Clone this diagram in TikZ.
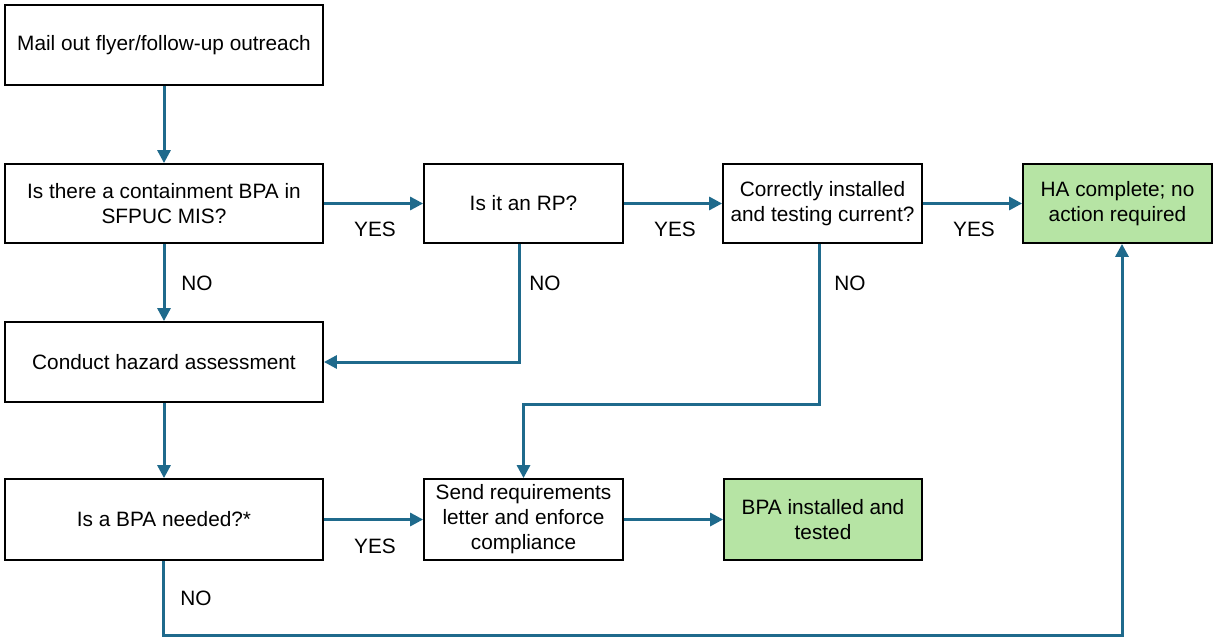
\documentclass[tikz,border=0pt]{standalone}
\usepackage{fontspec}
\setmainfont{Liberation Sans}
\usetikzlibrary{arrows.meta}
\definecolor{flowline}{RGB}{31,106,140}
\definecolor{donefill}{RGB}{182,228,164}
\begin{document}
\begin{tikzpicture}[x=1pt,y=-1pt,
  font=\fontsize{20.8}{25}\selectfont,
  box/.style={draw=black,line width=1.8pt,fill=white,align=center,inner sep=2pt},
  done/.style={box,fill=donefill},
  arr/.style={draw=flowline,line width=3pt,-{Triangle[length=13pt,width=13pt]}},
  lbl/.style={inner sep=0pt}]
\useasboundingbox[fill=white] (0,0) rectangle (1215,639);

% process boxes
\node[box,minimum width=318pt,minimum height=80pt] (mail) at (164,45) {Mail out flyer/follow-up outreach};
\node[box,minimum width=318pt,minimum height=79pt] (cont) at (164,203.5) {Is there a containment BPA in\\SFPUC MIS?};
\node[box,minimum width=199pt,minimum height=79pt] (rp) at (523.5,203.5) {Is it an RP?};
\node[box,minimum width=199pt,minimum height=79pt] (corr) at (822.5,203.5) {Correctly installed\\and testing current?};
\node[done,minimum width=189pt,minimum height=79pt] (ha) at (1117.5,203.5) {HA complete; no\\action required};
\node[box,minimum width=318pt,minimum height=80pt] (haz) at (164,362) {Conduct hazard assessment};
\node[box,minimum width=318pt,minimum height=81pt] (need) at (164,519.5) {Is a BPA needed?*};
\node[box,minimum width=199pt,minimum height=81pt] (send) at (523.5,519.5) {Send requirements\\letter and enforce\\compliance};
\node[done,minimum width=198pt,minimum height=81pt] (inst) at (823,519.5) {BPA installed and\\tested};

% turning points of the long return paths
\coordinate (corrdrop) at (819,404);
\coordinate (loop) at (1122,635);

% connectors
\draw[arr] (mail.south) -- (cont.north);
\draw[arr] (cont.east) -- (rp.west);
\draw[arr] (rp.east) -- (corr.west);
\draw[arr] (corr.east) -- (ha.west);
\draw[arr] (cont.south) -- (haz.north);
\draw[arr] ([xshift=-4.5pt]rp.south) |- (haz.east);
\draw[arr] ([xshift=-3.5pt]corr.south) -- (corrdrop) -| (send.north);
\draw[arr] (haz.south) -- (need.north);
\draw[arr] (need.east) -- (send.west);
\draw[arr] (send.east) -- (inst.west);
\draw[arr] ([xshift=-1pt]need.south) |- (loop) -- (loop |- ha.south);

% branch labels
\node[lbl] (y1) at (375,229) {YES};
\node[lbl] (y2) at (675,229) {YES};
\node[lbl] (y3) at (974,229) {YES};
\node[lbl] (y4) at (375,546) {YES};
\node[lbl] (n1) at (197,283) {NO};
\node[lbl] (n2) at (545,283) {NO};
\node[lbl] (n3) at (850,283) {NO};
\node[lbl] (n4) at (196,598) {NO};
\end{tikzpicture}
\end{document}
